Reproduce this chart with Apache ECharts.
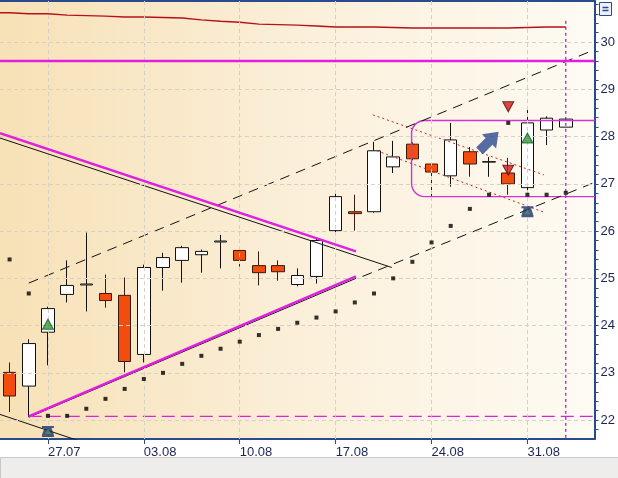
<!DOCTYPE html>
<html><head><meta charset="utf-8">
<script src="https://cdn.jsdelivr.net/npm/echarts@6/dist/echarts.min.js"></script>
<style>html,body{margin:0;padding:0;background:#fff;}#c{width:618px;height:478px;}</style>
</head><body><div id="c"></div>
<script>
// ---- data ----
const dates = ['23.07','24.07','27.07','28.07','29.07','30.07','31.07','03.08','04.08','05.08','06.08','07.08',
  '10.08','11.08','12.08','13.08','14.08','17.08','18.08','19.08','20.08','21.08','24.08','25.08','26.08','27.08',
  '28.08','31.08','01.09','02.09','03.09'];
const tickLabels = ['27.07','03.08','10.08','17.08','24.08','31.08'];
const opens  = [23.01,22.72,23.86,24.66,24.86,24.68,24.64,23.39,25.23,25.38,25.50,25.77,25.59,25.27,25.27,24.87,25.04,26.01,26.41,26.41,27.36,27.84,27.42,27.17,27.68,27.46,27.23,26.92,28.14,28.20];
const closes = [22.51,23.62,24.36,24.85,24.88,24.53,23.24,25.23,25.44,25.65,25.57,25.79,25.38,25.12,25.14,25.06,25.80,26.73,26.37,27.70,27.57,27.53,27.25,27.93,27.42,27.47,27.00,28.29,28.39,28.37];
const lows   = [22.17,22.07,23.16,24.49,24.30,24.38,23.01,23.22,24.74,24.91,25.12,25.21,25.25,24.85,24.95,24.83,24.89,25.90,26.01,26.39,27.23,27.50,26.73,26.94,27.15,27.15,26.77,26.80,27.82,28.20];
const highs  = [23.22,23.71,24.40,25.38,25.97,25.08,25.02,25.29,25.54,25.69,25.61,25.92,25.67,25.57,25.38,25.21,25.84,26.81,26.77,27.89,27.91,27.88,27.46,28.29,27.78,27.57,27.55,28.56,28.43,28.39];
const sarValues = [25.40,24.68,22.09,22.09,22.24,22.45,22.66,22.87,23.00,23.19,23.36,23.51,23.66,23.80,23.93,24.06,24.17,24.30,24.49,24.68,25.00,25.35,25.76,26.11,26.47,26.77,28.29,26.77,26.77,26.81];
const maStart = 30.62;
const maValues = [30.62,30.60,30.60,30.57,30.56,30.55,30.53,30.53,30.52,30.51,30.47,30.44,30.42,30.38,30.37,30.36,30.34,30.32,30.32,30.32,30.31,30.30,30.30,30.30,30.30,30.30,30.30,30.31,30.32,30.32];
const maLabel = '30,28 €';
const yGridValues = [22,23,24,25,26,27,28,29,30];
const yTickLabels = [22,23,24,25,26,27,28,29,30];
// annotation lines: [day, value]
const upperChannel = [[1.0,24.90],[30.5,29.84]];
const lowerChannel = [[18.4,25.04],[30.5,27.03]];
const blackDown    = [[-0.5,27.97],[19.93,25.23]];
const magentaDown  = [[-0.5,28.07],[18.06,25.57]];
const magentaUp    = [[1.0,22.08],[18.06,25.04]];
const blackUp      = [[1.0,22.06],[18.06,25.00]];
const blackLowLeft = [[-0.5,22.12],[3.7,21.55]];
const magentaLevel = [[-0.5,29.60],[30.5,29.60]];
const magentaSupport = [[1.0,22.08],[30.5,22.08]];
const todayLine    = [[29,30.45],[29,21.6]];
const redDotA      = [[18.94,28.46],[27.86,27.19]];
const redDotB      = [[19.15,27.70],[27.86,26.40]];
const boxRange     = [20.96,26.73,31.3,28.34];
const greenUp      = [[2,24.03],[27,27.97]];
const redDown      = [[26,28.63],[26,27.29]];
const hourglass    = [[2,21.76],[27,26.41]];
const arrowAt      = [[25,27.90]];

// ---- chart ----
const AXIS = '#2a4a8e', TXT = '#1c2456', MAG = '#e020e0', FONT = 'Liberation Sans';
const chart = echarts.init(document.getElementById('c'));
const gridDays = tickLabels.map(l => dates.indexOf(l));
const lineS = (data, color, width, type, z) => ({type:'line', xAxisIndex:1, data, symbol:'none', silent:true,
  lineStyle:{color, width, type}, z: z||4, animation:false});
const maData = [[-0.5, maStart]].concat(maValues.map((v,i)=>[i,v]));
maData[maData.length-1] = {value: maData[maData.length-1], label:{show:true, position:'top', distance:2, align:'right',
  offset:[4,0], formatter: maLabel, color:'#d0141e', fontFamily:FONT, fontSize:13}};

chart.setOption({
  animation:false,
  backgroundColor:'#ffffff',
  grid:{left:-2, right:22, top:1, bottom:39, show:true, borderWidth:0,
    backgroundColor:{type:'linear',x:0,y:0,x2:1,y2:0,colorStops:[{offset:0,color:'#f7e1b6'},{offset:0.5,color:'#fbefd9'},{offset:1,color:'#fefbf3'}]}},
  xAxis:[
    {type:'category', data:dates, boundaryGap:true, position:'bottom',
     axisLine:{show:true, lineStyle:{color:AXIS, width:2}},
     axisTick:{show:true, alignWithLabel:true, interval:(i,v)=>tickLabels.includes(v), length:5, lineStyle:{color:AXIS}},
     axisLabel:{interval:(i,v)=>tickLabels.includes(v), align:'left', margin:7, color:TXT, fontFamily:FONT, fontSize:13},
     splitLine:{show:false}},
    {type:'value', min:-0.5, max:30.5, position:'top',
     axisLine:{show:true, onZero:false, lineStyle:{color:AXIS, width:2}},
     axisTick:{show:false}, axisLabel:{show:false}, splitLine:{show:false}}
  ],
  yAxis:{type:'value', position:'right', min:21.6, max:30.87, interval:0.2,
    axisLine:{show:true, onZero:false, lineStyle:{color:AXIS, width:2}},
    axisTick:{show:true, length:4, lineStyle:{color:AXIS}},
    axisLabel:{margin:6, color:TXT, fontFamily:FONT, fontSize:13, showMinLabel:false, showMaxLabel:false,
      formatter:v=>{const r=Math.round(v); return (Math.abs(v-r)<1e-6 && yTickLabels.includes(r)) ? String(r) : '';}},
    splitLine:{show:false}},
  graphic:[
    {type:'rect', left:0, top:457, shape:{width:618, height:21}, style:{fill:'#eeedeb', stroke:'#c8c8c8', lineWidth:1}, silent:true},
    {type:'group', left:599, top:2, children:[
      {type:'rect', shape:{x:0,y:0,width:12,height:13}, style:{fill:'#eef1fa', stroke:AXIS, lineWidth:1}},
      {type:'line', shape:{x1:3,y1:5,x2:9,y2:5}, style:{stroke:AXIS, lineWidth:1.5}},
      {type:'line', shape:{x1:3,y1:8,x2:9,y2:8}, style:{stroke:AXIS, lineWidth:1.5}}
    ]}
  ],
  series:[
    {type:'line', xAxisIndex:1, data:[[-5,0]], symbol:'none', silent:true, z:1, lineStyle:{opacity:0},
     markLine:{silent:true, symbol:'none', label:{show:false}, animation:false,
       lineStyle:{color:'#d6d1c4', type:[4,3], width:1},
       data: yGridValues.map(v=>({yAxis:v})).concat(gridDays.map(d=>({xAxis:d})))}},
    {type:'line', xAxisIndex:1, data:maData, symbol:'none', silent:true, z:4, lineStyle:{color:'#b8101a', width:1.4}},
    {type:'custom', xAxisIndex:1, clip:true, z:4, silent:true, data:[boxRange],
     renderItem:(params, api)=>{
       const p0 = api.coord([api.value(0), api.value(3)]);
       const p1 = api.coord([api.value(2), api.value(1)]);
       return {type:'rect', shape:{x:p0[0], y:p0[1], width:p1[0]-p0[0], height:p1[1]-p0[1], r:13},
         style:{fill:'none', stroke:'#cf36cf', lineWidth:1.4}};
     }},
    {type:'candlestick', xAxisIndex:0, z:3, barWidth:13, silent:true,
     data: opens.map((o,i)=>[o, closes[i], lows[i], highs[i]]),
     itemStyle:{color:'#ffffff', color0:'#f24d0c', borderColor:'#111111', borderColor0:'#3a1a10', borderWidth:1}},
    lineS(upperChannel, '#111', 1, [10,7]),
    lineS(lowerChannel, '#111', 1, [10,7]),
    lineS(blackDown, '#111', 1, 'solid'),
    lineS(blackUp, '#111', 1, 'solid'),
    lineS(blackLowLeft, '#111', 1, 'solid'),
    lineS(magentaDown, MAG, 2.5, 'solid', 5),
    lineS(magentaUp, MAG, 2.5, 'solid', 5),
    lineS(magentaLevel, MAG, 2.5, 'solid', 5),
    lineS(magentaSupport, MAG, 1.2, [13,6]),
    lineS(todayLine, '#b010c0', 1.2, [3,3]),
    lineS(redDotA, '#d22020', 1, [2,3]),
    lineS(redDotB, '#d22020', 1, [2,3]),
    {type:'scatter', xAxisIndex:0, z:6, silent:true, data:sarValues, symbol:'rect', symbolSize:4, itemStyle:{color:'#000'}},
    {type:'scatter', xAxisIndex:0, z:7, silent:true, data:greenUp, symbol:'triangle', symbolSize:[11,10],
     itemStyle:{color:'#2e9a3e', borderColor:'#155a1e', borderWidth:1}},
    {type:'scatter', xAxisIndex:0, z:7, silent:true, data:redDown, symbol:'triangle', symbolRotate:180, symbolSize:[11,10],
     itemStyle:{color:'#d01a1a', borderColor:'#5a0808', borderWidth:1}},
    {type:'scatter', xAxisIndex:0, z:7, silent:true, data:hourglass, symbol:'path://M0,0H10V2H8L10,9V11H0V9L2,2H0Z', symbolSize:[12,11],
     itemStyle:{color:'#1d2f6e'}},
    {type:'scatter', xAxisIndex:0, z:8, silent:true, data:hourglass, symbol:'triangle', symbolSize:[6,5],
     itemStyle:{color:'#3aa04a'}},
    {type:'scatter', xAxisIndex:0, z:7, silent:true, data:arrowAt, symbol:'path://M5,0L10,5L7.4,5L7.4,10L2.6,10L2.6,5L0,5Z',
     symbolSize:[20,27], symbolRotate:-45, itemStyle:{color:'#2a4890'}}
  ]
});
</script></body></html>
